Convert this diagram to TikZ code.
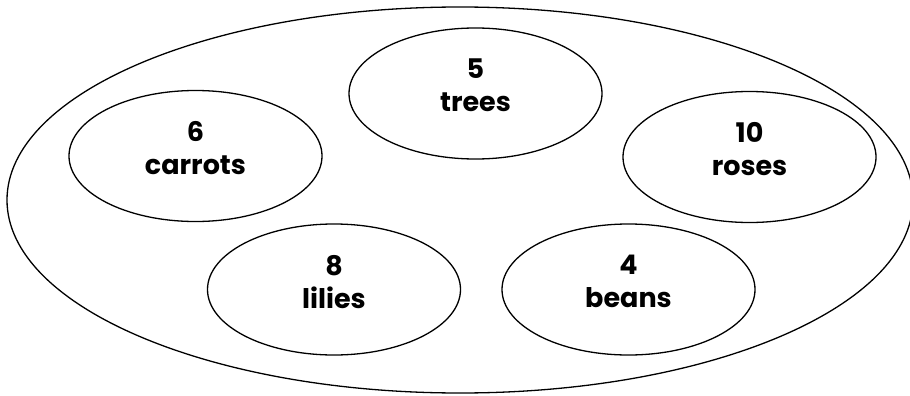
\documentclass[tikz,border=0pt]{standalone}
\usepackage{fontspec}
\setmainfont{Poppins}
\usepackage{tikz}
\usetikzlibrary{shapes.geometric}

\tikzset{
  set/.style={draw, ellipse, line width=1.3pt, inner sep=0pt,
    minimum width=253pt, minimum height=131pt, align=center, text depth=16pt,
    font=\fontsize{27}{33}\selectfont\bfseries}
}

\begin{document}
\begin{tikzpicture}[x=1pt,y=-1pt]
\useasboundingbox (0,0) rectangle (910,396);

% Outer set
\node[draw, ellipse, line width=1.3pt, minimum width=906pt, minimum height=386pt] (garden) at (460,200) {};

% Inner sets
\foreach \name/\x/\y/\num in {carrots/195.5/156/6, trees/475.5/93.5/5, roses/749.5/157/10,
    lilies/334/289.5/8, beans/628.5/289.5/4} {
    \node[set] (\name) at (\x,\y) {\num\\\name};
}
\end{tikzpicture}
\end{document}
